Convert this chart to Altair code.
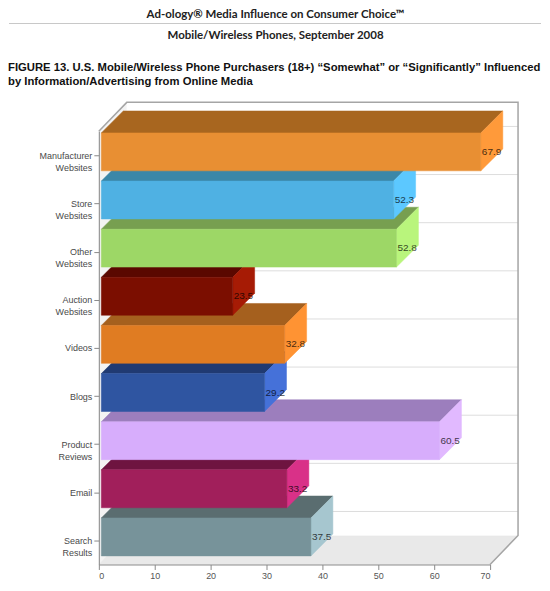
import altair as alt
import pandas as pd

# data
categories = [
    "Manufacturer Websites", "Store Websites", "Other Websites",
    "Auction Websites", "Videos", "Blogs", "Product Reviews",
    "Email", "Search Results",
]
axis_labels = [
    ["Manufacturer", "Websites"], ["Store", "Websites"], ["Other", "Websites"],
    ["Auction", "Websites"], ["Videos"], ["Blogs"], ["Product", "Reviews"],
    ["Email"], ["Search", "Results"],
]
values = [67.9, 52.3, 52.8, 23.5, 32.8, 29.2, 60.5, 33.2, 37.5]
x_ticks = [0, 10, 20, 30, 40, 50, 60, 70]

front_colors = ["#e88f33", "#4fb1e3", "#9dd766", "#7b0e00", "#e07c22",
                "#2f55a1", "#d7adfc", "#a11f5b", "#77939a"]
top_colors = ["#a8661f", "#3b87a8", "#779f50", "#5a0800", "#a5601e",
              "#203a72", "#9c7ebd", "#6e1440", "#5a6d70"]
side_colors = ["#ff9a3a", "#5cc8ff", "#b9f57c", "#a61b05", "#ff9333",
               "#4571d9", "#e1b9ff", "#d93188", "#a6c6cf"]

header = ["Ad-ology\u00ae Media Influence on Consumer Choice\u2122",
          "Mobile/Wireless Phones, September 2008"]
caption = ["FIGURE 13. U.S. Mobile/Wireless Phone Purchasers (18+) \u201cSomewhat\u201d or \u201cSignificantly\u201d Influenced",
           "by Information/Advertising from Online Media"]

# geometry of the fake 3d (pixels, turned into data units below)
W, H = 392, 434
XMAX, N = 70, len(categories)
px_x = W / XMAX
px_y = H / N
wall_dx, wall_dy = 28 / px_x, 29 / px_y
off_x, off_y = 2.5 / px_x, 3.5 / px_y
dep_x, dep_y = 22 / px_x, 22 / px_y
half = 19 / px_y

centers = [N - 0.5 - i for i in range(N)]

front = pd.DataFrame({
    "cat": categories,
    "value": values,
    "x0": off_x,
    "x1": [v + off_x for v in values],
    "y0": [c - half + off_y for c in centers],
    "y1": [c + half + off_y for c in centers],
})
front["ylab"] = [c + off_y for c in centers]

top_rows, side_rows = [], []
for cat, v, c in zip(categories, values, centers):
    yt = c + half + off_y
    yb = c - half + off_y
    xa, xb = off_x, v + off_x
    top_rows += [
        dict(cat=cat, px=xa, lo=yt, hi=yt),
        dict(cat=cat, px=xa + dep_x, lo=yt, hi=yt + dep_y),
        dict(cat=cat, px=xb, lo=yt, hi=yt + dep_y),
        dict(cat=cat, px=xb + dep_x, lo=yt + dep_y, hi=yt + dep_y),
    ]
    side_rows += [
        dict(cat=cat, px=xb, lo=yb, hi=yt),
        dict(cat=cat, px=xb + dep_x, lo=yb + dep_y, hi=yt + dep_y),
    ]
top = pd.DataFrame(top_rows)
side = pd.DataFrame(side_rows)

# walls
floor = pd.DataFrame({"px": [0, wall_dx, XMAX, XMAX + wall_dx],
                      "lo": [0, 0, 0, wall_dy],
                      "hi": [0, wall_dy, wall_dy, wall_dy]})
left_wall = pd.DataFrame({"px": [0, wall_dx],
                          "lo": [0, wall_dy], "hi": [N, N + wall_dy]})
back_wall = pd.DataFrame({"x0": [wall_dx], "x1": [XMAX + wall_dx],
                          "y0": [wall_dy], "y1": [N + wall_dy]})
grid = pd.DataFrame({"x0": wall_dx, "x1": XMAX + wall_dx,
                     "y": [c + wall_dy for c in centers]})
edges = pd.DataFrame({"k": [0, 1, 2, 3, 4],
                      "px": [0, wall_dx, XMAX + wall_dx, XMAX + wall_dx, XMAX],
                      "py": [N, N + wall_dy, N + wall_dy, wall_dy, 0]})

xscale = alt.Scale(domain=[0, XMAX], nice=False, zero=False)
yscale = alt.Scale(domain=[0, N], nice=False, zero=False)
xaxis = alt.Axis(values=x_ticks, title=None, grid=False, domainColor="#8a8a8a",
                 tickColor="#8a8a8a", tickSize=5, labelColor="#555555",
                 labelFontSize=9, labelFont="Liberation Sans", labelPadding=2,
                 zindex=1)
label_list = ",".join("'" + "|".join(l) + "'" for l in axis_labels)
yaxis = alt.Axis(values=centers, title=None, grid=False, domainColor="#8a8a8a",
                 tickColor="#8a8a8a", tickSize=5, labelColor="#4a4a4a",
                 labelFontSize=9, labelFont="Liberation Sans", labelPadding=2,
                 labelLineHeight=12, zindex=1,
                 labelExpr=f"split([{label_list}][round({N - 0.5} - datum.value)], '|')")


def X(f):
    return alt.X(f, type="quantitative", scale=xscale, axis=xaxis)


def Y(f):
    return alt.Y(f, type="quantitative", scale=yscale, axis=yaxis, stack=None)


def face(df, color, sel=None):
    ch = alt.Chart(df)
    if sel is not None:
        ch = ch.transform_filter(sel)
    return ch.mark_area(orient="vertical", color=color, stroke=color,
                        strokeWidth=0.5).encode(x=X("px"), y=Y("lo"), y2="hi")


layers = [
    face(left_wall, "#f3f3f3"),
    face(floor, "#e9e9e9"),
    alt.Chart(back_wall).mark_rect(color="#ffffff").encode(
        x=X("x0"), x2="x1", y=Y("y0"), y2="y1"),
    alt.Chart(grid).mark_rule(color="#dddddd", strokeWidth=1).encode(
        x=X("x0"), x2="x1", y=Y("y")),
    alt.Chart(edges).mark_line(color="#a5a5a5", strokeWidth=1.5).encode(
        x=X("px"), y=Y("py"), order="k:Q"),
]

# bottom bars first so the upper bars sit in front
for i in reversed(range(N)):
    sel = alt.datum.cat == categories[i]
    layers.append(face(top, top_colors[i], sel))
    layers.append(face(side, side_colors[i], sel))
    layers.append(
        alt.Chart(front).transform_filter(sel)
        .mark_rect(color=front_colors[i], stroke=front_colors[i], strokeWidth=0.5)
        .encode(x=X("x0"), x2="x1", y=Y("y0"), y2="y1"))

layers.append(
    alt.Chart(front).mark_text(align="left", baseline="middle", dx=1, fontSize=10,
                               font="Liberation Sans", color="#000000", opacity=0.72)
    .encode(x=X("x1"), y=Y("ylab"), text=alt.Text("value:Q", format=".1f")))

# page header and figure caption
hdr = pd.DataFrame({"t": header, "row": [0, 1]})
cap = pd.DataFrame({"t": caption, "row": [0, 1]})
layers += [
    alt.Chart(hdr).transform_filter(alt.datum.row == 0)
    .mark_text(font="Lato", fontWeight="bold", fontSize=11.5, color="#222222", align="center")
    .encode(text="t:N", x=alt.value(177), y=alt.value(-114)),
    alt.Chart(hdr).transform_filter(alt.datum.row == 0)
    .mark_rule(color="#c8c8c8", strokeWidth=1)
    .encode(x=alt.value(-90), x2=alt.value(443), y=alt.value(-108)),
    alt.Chart(hdr).transform_filter(alt.datum.row == 1)
    .mark_text(font="Lato", fontWeight="bold", fontSize=11.5, color="#222222", align="center")
    .encode(text="t:N", x=alt.value(177), y=alt.value(-92)),
    alt.Chart(cap).transform_filter(alt.datum.row == 0)
    .mark_text(font="Liberation Sans", fontWeight="bold", fontSize=11.3, color="#111111", align="left")
    .encode(text="t:N", x=alt.value(-91), y=alt.value(-60)),
    alt.Chart(cap).transform_filter(alt.datum.row == 1)
    .mark_text(font="Liberation Sans", fontWeight="bold", fontSize=11.3, color="#111111", align="left")
    .encode(text="t:N", x=alt.value(-91), y=alt.value(-46)),
]

chart = (
    alt.layer(*layers)
    .properties(width=W, height=H, padding={"left": 0, "top": 0, "right": 0, "bottom": 0})
    .configure_view(stroke=None)
    .configure_text(baseline="alphabetic")
)

chart.save("out.html", embed_options={"renderer": "svg", "actions": False})
